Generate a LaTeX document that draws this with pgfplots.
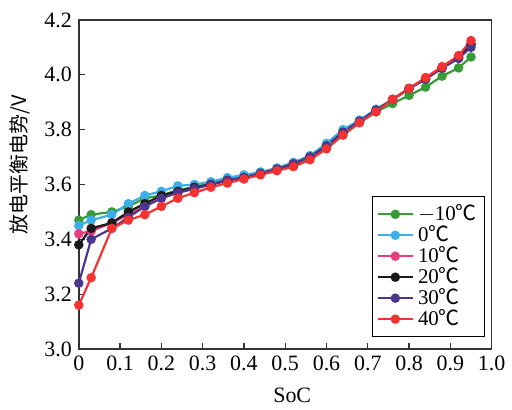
\documentclass[border=0pt]{standalone}
\usepackage{fontspec}
\setmainfont{Liberation Serif}
\newfontfamily\serif{Liberation Serif}
\newfontfamily\cjk{Noto Sans CJK SC}
\usepackage{pgfplots}
\pgfplotsset{compat=1.18}
\definecolor{cg}{RGB}{55,155,55}
\definecolor{cc}{RGB}{60,175,235}
\definecolor{cp}{RGB}{235,60,125}
\definecolor{cb}{RGB}{25,25,25}
\definecolor{cv}{RGB}{75,55,140}
\definecolor{cr}{RGB}{245,50,50}
\begin{document}
\begin{tikzpicture}
\begin{axis}[
  scale only axis, width=207pt, height=165pt,
  xmin=0, xmax=1, ymin=3.0, ymax=4.2,
  xtick={0,0.1,...,1.0},
  xticklabels={0,0.1,0.2,0.3,0.4,0.5,0.6,0.7,0.8,0.9,1.0},
  ytick={3.0,3.2,...,4.2},
  yticklabels={3.0,3.2,3.4,3.6,3.8,4.0,4.2},
  ticklabel style={font=\serif\fontsize{11}{12}\selectfont},
  tick align=inside, xtick pos=bottom, ytick pos=left,
  major tick length=3pt,
  axis line style={line width=0.8pt, black!80},
  tick style={black!80, line width=0.6pt},
  xlabel={SoC}, ylabel={\cjk 放电平衡电势/V},
  ylabel style={font=\cjk\fontsize{10}{11}\selectfont, at={(axis description cs:-0.143,0.56)}, anchor=center},
  xlabel style={font=\serif\fontsize{11}{12}\selectfont, at={(axis description cs:0.517,-0.142)}, anchor=center},
  every axis plot/.append style={line width=1.1pt, mark=*, mark size=1.8pt},
  legend style={at={(0.985,0.036)}, anchor=south east, draw=black, line width=0.6pt,
    font=\serif\fontsize{10.5}{12}\selectfont, row sep=-3pt, inner sep=2pt},
  legend cell align=left,
  legend image code/.code={\draw[#1] (0cm,0cm) -- (0.62cm,0cm); \draw[#1, mark repeat=2, mark phase=2] plot coordinates {(0cm,0cm) (0.31cm,0cm) (0.62cm,0cm)};},
]
% -10 C
\addplot[color=cg, mark options={fill=cg}] coordinates {
(0,3.47)(0.03,3.49)(0.08,3.50)(0.12,3.52)(0.16,3.55)(0.20,3.56)(0.24,3.58)(0.28,3.59)
(0.32,3.605)(0.36,3.62)(0.40,3.63)(0.44,3.645)(0.48,3.66)(0.52,3.68)(0.56,3.705)(0.60,3.745)
(0.64,3.79)(0.68,3.83)(0.72,3.865)(0.76,3.895)(0.80,3.925)(0.84,3.955)(0.88,3.995)(0.92,4.025)(0.95,4.065)};
% 0 C
\addplot[color=cc, mark options={fill=cc}] coordinates {
(0,3.45)(0.03,3.47)(0.08,3.49)(0.12,3.53)(0.16,3.56)(0.20,3.575)(0.24,3.595)(0.28,3.60)
(0.32,3.61)(0.36,3.625)(0.40,3.635)(0.44,3.645)(0.48,3.66)(0.52,3.68)(0.56,3.705)(0.60,3.75)
(0.64,3.80)(0.68,3.835)(0.72,3.875)(0.76,3.91)(0.80,3.95)(0.84,3.985)(0.88,4.025)(0.92,4.065)(0.95,4.11)};
% 10 C
\addplot[color=cp, mark options={fill=cp}] coordinates {
(0,3.42)(0.03,3.43)(0.08,3.46)(0.12,3.49)(0.16,3.52)(0.20,3.55)(0.24,3.57)(0.28,3.585)
(0.32,3.60)(0.36,3.615)(0.40,3.625)(0.44,3.64)(0.48,3.655)(0.52,3.675)(0.56,3.70)(0.60,3.74)
(0.64,3.79)(0.68,3.83)(0.72,3.87)(0.76,3.91)(0.80,3.95)(0.84,3.985)(0.88,4.025)(0.92,4.065)(0.95,4.115)};
% 20 C
\addplot[color=cb, mark options={fill=cb}] coordinates {
(0,3.38)(0.03,3.44)(0.08,3.46)(0.12,3.50)(0.16,3.53)(0.20,3.56)(0.24,3.575)(0.28,3.59)
(0.32,3.60)(0.36,3.615)(0.40,3.625)(0.44,3.64)(0.48,3.655)(0.52,3.675)(0.56,3.70)(0.60,3.74)
(0.64,3.79)(0.68,3.83)(0.72,3.87)(0.76,3.91)(0.80,3.95)(0.84,3.985)(0.88,4.025)(0.92,4.06)(0.95,4.11)};
% 30 C
\addplot[color=cv, mark options={fill=cv}] coordinates {
(0,3.24)(0.03,3.40)(0.08,3.44)(0.12,3.48)(0.16,3.52)(0.20,3.55)(0.24,3.57)(0.28,3.585)
(0.32,3.60)(0.36,3.615)(0.40,3.625)(0.44,3.64)(0.48,3.655)(0.52,3.675)(0.56,3.70)(0.60,3.74)
(0.64,3.79)(0.68,3.83)(0.72,3.87)(0.76,3.91)(0.80,3.95)(0.84,3.985)(0.88,4.025)(0.92,4.06)(0.95,4.10)};
% 40 C
\addplot[color=cr, mark options={fill=cr}] coordinates {
(0,3.16)(0.03,3.26)(0.08,3.44)(0.12,3.47)(0.16,3.49)(0.20,3.52)(0.24,3.55)(0.28,3.57)
(0.32,3.59)(0.36,3.605)(0.40,3.62)(0.44,3.635)(0.48,3.65)(0.52,3.665)(0.56,3.69)(0.60,3.73)
(0.64,3.78)(0.68,3.825)(0.72,3.865)(0.76,3.91)(0.80,3.95)(0.84,3.99)(0.88,4.03)(0.92,4.07)(0.95,4.125)};
\legend{$-$10{\cjk ℃},0{\cjk ℃},10{\cjk ℃},20{\cjk ℃},30{\cjk ℃},40{\cjk ℃}}
\end{axis}
\path (current axis.south west) ++(-39.5pt,-29.5pt);
\path (current axis.north east) ++(9.5pt,10pt);
\end{tikzpicture}
\end{document}
